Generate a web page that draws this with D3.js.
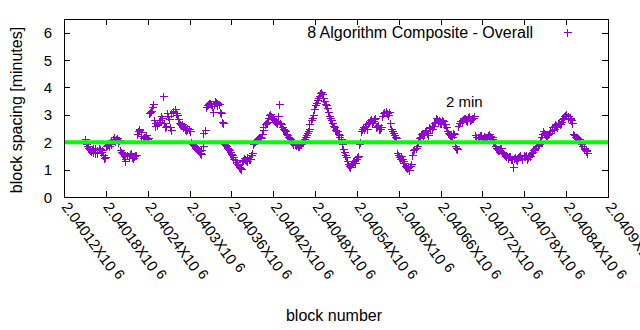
<!DOCTYPE html>
<html>
<head>
<meta charset="utf-8">
<script src="https://cdn.jsdelivr.net/npm/d3@7"></script>
<style>
  html, body { margin: 0; padding: 0; background: #fff; }
  svg { display: block; font-family: "Liberation Sans", Arial, sans-serif; }
</style>
</head>
<body>
<div id="chart"></div>
<script>
const firstBlock = 2040150;
const blockStep  = 2.87;   // blocks between samples of one pass
const spacingA = [
  2.12, 1.85, 1.75, 1.68, 1.78, 1.62, 1.72, 1.80, 1.66, 1.55,
  1.45, 1.90, 1.86, 1.95, 2.12, 2.05, 2.15, 2.08, 1.65, 1.58,
  1.30, 1.55, 1.48, 1.60, 1.42, 1.52, 2.30, 2.45, 2.38, 2.15,
  2.20, 2.10, 3.05, 3.15, 3.38, 2.70, 2.62, 2.75, 2.95, 3.67,
  2.55, 3.05, 2.85, 2.45, 3.10, 3.20, 3.00, 2.70, 2.62, 2.55,
  2.50, 2.48, 2.50, 2.00, 1.90, 1.82, 1.75, 1.68, 1.58, 1.85,
  2.45, 3.35, 3.42, 3.38, 3.12, 3.50, 3.45, 3.40, 3.05, 2.70,
  1.90, 1.80, 1.72, 1.58, 1.45, 1.35, 1.22, 1.10, 1.02, 1.35,
  1.40, 1.30, 1.38, 1.55, 1.95, 2.05, 2.12, 2.18, 2.15, 2.45,
  2.65, 2.75, 3.00, 2.95, 2.85, 2.78, 2.72, 3.38, 2.65, 2.50,
  2.40, 2.25, 2.15, 2.05, 1.98, 1.92, 1.95, 1.85, 1.95, 2.05,
  2.20, 2.35, 2.50, 2.80, 3.00, 3.35, 3.55, 3.70, 3.85, 3.60,
  3.40, 3.25, 2.95, 2.80, 2.60, 2.45, 2.40, 2.25, 2.10, 1.75,
  1.55, 1.30, 1.15, 1.20, 1.30, 1.25, 1.45, 1.95, 2.40, 2.55,
  2.60, 2.50, 2.75, 2.85, 2.78, 2.90, 2.60, 2.50, 2.55, 3.05,
  3.15, 3.05, 3.10, 2.50, 2.35, 2.20, 1.60, 1.45, 1.50, 1.30,
  1.15, 1.05, 1.00, 1.20, 1.70, 1.78, 1.85, 2.15, 2.30, 2.25,
  2.40, 2.35, 2.55, 2.50, 2.60, 2.75, 2.85, 2.80, 2.70, 2.78,
  2.65, 2.40, 2.30, 2.25, 2.35, 1.85, 1.75, 2.70, 2.75, 2.85,
  2.90, 2.78, 2.95, 2.85, 2.90, 2.25, 2.15, 2.20, 2.25, 2.10,
  2.20, 2.15, 2.30, 2.20, 2.05, 1.85, 1.75, 1.70, 1.80, 1.60,
  1.55, 1.45, 1.50, 1.40, 1.10, 1.45, 1.35, 1.50, 1.42, 1.55,
  1.48, 1.38, 1.55, 1.60, 1.72, 1.80, 1.90, 1.92, 2.20, 2.40,
  2.30, 2.25, 2.35, 2.45, 2.50, 2.65, 2.55, 2.70, 2.75, 2.90,
  3.00, 2.95, 2.85, 2.80, 2.30, 2.20, 2.15, 2.10, 1.95, 1.80,
  1.70, 1.62
];
const spacingB = [
  1.95, 1.78, 1.70, 1.74, 1.65, 1.80, 1.60, 1.74, 1.70, 1.42,
  1.88, 1.92, 1.98, 2.08, 2.18, 2.10, 2.02, 1.70, 1.62, 1.50,
  1.38, 1.52, 1.58, 1.45, 1.48, 1.55, 2.40, 2.50, 2.22, 2.18,
  2.25, 2.15, 3.10, 3.30, 2.80, 2.60, 2.68, 2.80, 2.90, 2.70,
  2.60, 2.95, 2.55, 3.05, 3.15, 3.05, 2.85, 2.65, 2.68, 2.58,
  2.45, 2.52, 2.42, 1.95, 1.88, 1.78, 1.72, 1.62, 1.70, 2.35,
  3.30, 3.38, 3.45, 3.32, 3.40, 3.48, 3.35, 3.10, 2.75, 1.95,
  1.85, 1.75, 1.65, 1.52, 1.40, 1.28, 1.18, 1.05, 1.30, 1.42,
  1.35, 1.45, 1.40, 1.62, 2.00, 2.08, 2.15, 2.20, 2.30, 2.55,
  2.70, 2.90, 3.02, 2.90, 2.80, 2.75, 2.95, 2.70, 2.55, 2.45,
  2.30, 2.20, 2.10, 2.00, 1.95, 1.90, 1.88, 1.92, 2.00, 2.12,
  2.28, 2.42, 2.65, 2.90, 3.20, 3.45, 3.62, 3.78, 3.75, 3.50,
  3.35, 3.10, 2.88, 2.70, 2.55, 2.42, 2.30, 2.18, 1.95, 1.65,
  1.45, 1.22, 1.10, 1.25, 1.32, 1.38, 1.50, 2.00, 2.48, 2.50,
  2.65, 2.70, 2.80, 2.72, 2.85, 2.55, 2.62, 2.48, 2.95, 3.10,
  3.10, 3.00, 2.70, 2.40, 2.28, 2.15, 1.55, 1.40, 1.38, 1.25,
  1.10, 1.08, 1.12, 1.55, 1.75, 1.80, 2.05, 2.20, 2.35, 2.30,
  2.45, 2.28, 2.52, 2.58, 2.70, 2.88, 2.75, 2.72, 2.82, 2.68,
  2.55, 2.35, 2.28, 2.20, 2.30, 1.80, 2.60, 2.78, 2.80, 2.88,
  2.82, 2.92, 2.80, 2.88, 2.95, 2.20, 2.18, 2.28, 2.15, 2.22,
  2.18, 2.25, 2.22, 2.12, 2.00, 1.80, 1.72, 1.78, 1.65, 1.58,
  1.50, 1.42, 1.48, 1.38, 1.42, 1.40, 1.45, 1.52, 1.38, 1.50,
  1.52, 1.45, 1.50, 1.65, 1.75, 1.85, 1.88, 2.05, 2.30, 2.35,
  2.28, 2.30, 2.40, 2.55, 2.60, 2.62, 2.72, 2.68, 2.85, 2.95,
  3.02, 2.90, 2.88, 2.70, 2.25, 2.18, 2.12, 2.05, 1.88, 1.75,
  1.68
];

const xTicks   = [2040120, 2040180, 2040240, 2040300, 2040360, 2040420, 2040480,
                  2040540, 2040600, 2040660, 2040720, 2040780, 2040840, 2040900];
const yTicks   = [0, 1, 2, 3, 4, 5, 6];
const target   = 2;          // minutes
const seriesName = '8 Algorithm Composite - Overall';

const W = 640, H = 330;
const box = { left: 64, right: 608, top: 19, bottom: 197 };
const purple = '#9400d3';
const green  = '#00ff00';

const points = [
  ...spacingA.map((v, i) => ({ block: firstBlock + Math.round(i * blockStep), v })),
  ...spacingB.map((v, i) => ({ block: firstBlock + 1 + Math.round(i * blockStep), v }))
];

const svg = d3.select('#chart').append('svg')
  .attr('width', W).attr('height', H);

const x = d3.scaleLinear().domain([xTicks[0], xTicks[xTicks.length - 1]]).range([box.left, box.right]);
const y = d3.scaleLinear().domain([0, 6.5]).range([box.bottom, box.top]);
const px = v => Math.round(v) + 0.5;

// ticks (inward, mirrored)
const tk = 6;
const ticks = svg.append('g').attr('stroke', '#000').attr('stroke-width', 1).attr('shape-rendering', 'crispEdges');
xTicks.forEach(t => {
  const xx = px(x(t));
  ticks.append('line').attr('x1', xx).attr('x2', xx).attr('y1', box.bottom).attr('y2', box.bottom - tk);
  ticks.append('line').attr('x1', xx).attr('x2', xx).attr('y1', box.top).attr('y2', box.top + tk);
});
yTicks.forEach(t => {
  const yy = px(y(t));
  ticks.append('line').attr('x1', box.left).attr('x2', box.left + tk).attr('y1', yy).attr('y2', yy);
  ticks.append('line').attr('x1', box.right).attr('x2', box.right - tk).attr('y1', yy).attr('y2', yy);
});

// y tick labels
svg.append('g')
  .selectAll('text')
  .data(yTicks)
  .join('text')
    .attr('x', 52)
    .attr('y', d => y(d) + 5.5)
    .attr('text-anchor', 'end')
    .attr('font-size', 15)
    .text(d => d);

// x tick labels, rotated
const fmt = d => +(d / 1e6).toFixed(5);
const xl = svg.append('g')
  .selectAll('text')
  .data(xTicks)
  .join('text')
    .attr('transform', d => `translate(${x(d) - 3},${box.bottom + 10}) rotate(54)`)
    .attr('font-size', 15);
xl.append('tspan').text(d => `${fmt(d)}X10`);
xl.append('tspan').attr('dx', 4).attr('dy', -3).attr('font-size', 14).text('6');

// points
const plus = (cx, cy, s) => `M${cx - s},${cy}h${2 * s}M${cx},${cy - s}v${2 * s}`;
svg.append('path')
  .attr('d', points.map(d => plus(px(x(d.block)), px(y(d.v)), 4)).join(''))
  .attr('fill', 'none')
  .attr('stroke', purple)
  .attr('stroke-width', 1)
  .attr('shape-rendering', 'crispEdges');

// 2 minute reference line
svg.append('line')
  .attr('x1', box.left).attr('x2', box.right)
  .attr('y1', y(target)).attr('y2', y(target))
  .attr('stroke', green)
  .attr('stroke-width', 4);

svg.append('text')
  .attr('x', 446).attr('y', 107)
  .attr('font-size', 15)
  .text(`${target} min`);

// frame
svg.append('rect')
  .attr('x', box.left + 0.5).attr('y', box.top + 0.5)
  .attr('width', box.right - box.left).attr('height', box.bottom - box.top)
  .attr('fill', 'none').attr('stroke', '#000').attr('shape-rendering', 'crispEdges');

// legend
svg.append('text')
  .attr('x', 533).attr('y', 38)
  .attr('text-anchor', 'end')
  .attr('font-size', 16)
  .text(seriesName);
svg.append('path')
  .attr('d', plus(567.5, 32.5, 4))
  .attr('stroke', purple).attr('fill', 'none').attr('shape-rendering', 'crispEdges');

// axis titles
svg.append('text')
  .attr('transform', `translate(22,${(box.top + box.bottom) / 2 + 2}) rotate(-90)`)
  .attr('text-anchor', 'middle')
  .attr('font-size', 16)
  .text('block spacing [minutes]');

svg.append('text')
  .attr('x', 334).attr('y', 321)
  .attr('text-anchor', 'middle')
  .attr('font-size', 16)
  .text('block number');
</script>
</body>
</html>
